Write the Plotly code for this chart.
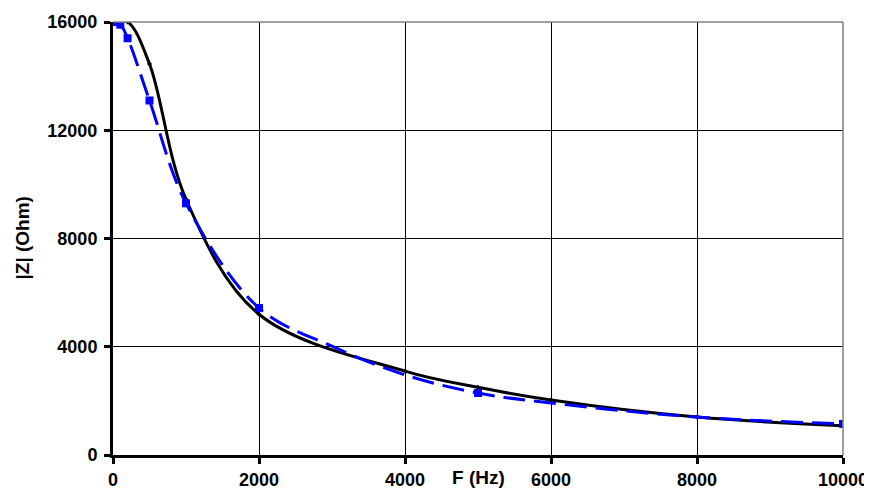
import plotly.graph_objects as go

# Measured curve (black, solid)
freq_meas = [0, 200, 500, 1000, 2000, 4000, 5000, 6000, 8000, 10000]
z_meas = [16000, 16000, 14450, 9450, 5200, 3100, 2500, 2030, 1400, 1080]

# Model curve (blue, dashed); only the computed points carry square markers
freq_model = [0, 100, 200, 500, 1000, 2000, 3000, 4000, 5000, 6000, 8000, 10000]
z_model = [16000, 15900, 15400, 13100, 9300, 5430, 4020, 2960, 2290, 1920, 1400, 1150]
model_marked = [1, 1, 1, 1, 1, 1, 0, 0, 1, 0, 0, 1]

x_ticks = [0, 2000, 4000, 6000, 8000, 10000]
y_ticks = [0, 4000, 8000, 12000, 16000]

FONT = "Liberation Sans, Arial, sans-serif"

fig = go.Figure()
fig.add_trace(go.Scatter(
    x=freq_meas, y=z_meas, mode="lines+markers",
    line=dict(color="black", width=3, shape="spline", smoothing=1.0),
    marker=dict(symbol="diamond", size=4, color="black", line=dict(width=0)),
    showlegend=False))
fig.add_trace(go.Scatter(
    x=freq_model, y=z_model, mode="lines+markers",
    line=dict(color="#0000ff", width=3, dash="22px,9px", shape="spline", smoothing=1.0),
    marker=dict(symbol="square", size=[8 * m for m in model_marked], color="#0000ff",
                opacity=1, line=dict(width=0, color="#0000ff")),
    showlegend=False))

tickfont = dict(size=18, family=FONT, weight="bold", color="black")

# page body has an 8px margin, so the figure is sized to fit the 872x490 window
fig.update_layout(
    width=864, height=482,
    margin=dict(l=105, r=29, t=14, b=35),
    paper_bgcolor="white", plot_bgcolor="white",
    font=dict(family=FONT, size=18, color="black"),
    xaxis=dict(range=[0, 10000], tickvals=x_ticks, ticktext=[str(v) for v in x_ticks],
               automargin=False,
               showgrid=True, gridcolor="black", gridwidth=1,
               showline=True, linecolor="black", linewidth=3,
               ticks="outside", ticklen=6, tickwidth=3, tickcolor="black",
               ticklabelstandoff=0,
               tickfont=tickfont, zeroline=False),
    yaxis=dict(range=[0, 16000], tickvals=y_ticks, ticktext=[str(v) for v in y_ticks],
               automargin=False,
               showgrid=True, gridcolor="black", gridwidth=1,
               showline=True, linecolor="black", linewidth=3,
               ticks="outside", ticklen=6, tickwidth=3, tickcolor="black",
               ticklabelstandoff=3,
               tickfont=tickfont, zeroline=False),
)

# grey frame on top and right
fig.add_shape(type="line", xref="paper", yref="paper", x0=0, x1=1, y0=1, y1=1,
              line=dict(color="#808080", width=1.5))
fig.add_shape(type="line", xref="paper", yref="paper", x0=1, x1=1, y0=0, y1=1,
              line=dict(color="#808080", width=1.5))

fig.add_annotation(text="<b>F (Hz)</b>", xref="paper", yref="paper", x=(478 - 113) / 730, y=0,
                   yshift=-22, xanchor="center", yanchor="middle", showarrow=False,
                   font=dict(size=19, family=FONT, color="black"))
fig.add_annotation(text="<b>|Z| (Ohm)</b>", xref="paper", yref="paper", x=0, y=0.5,
                   xshift=-91, xanchor="center", yanchor="middle", textangle=-90, showarrow=False,
                   font=dict(size=19, family=FONT, color="black"))

fig.write_html("out.html")
